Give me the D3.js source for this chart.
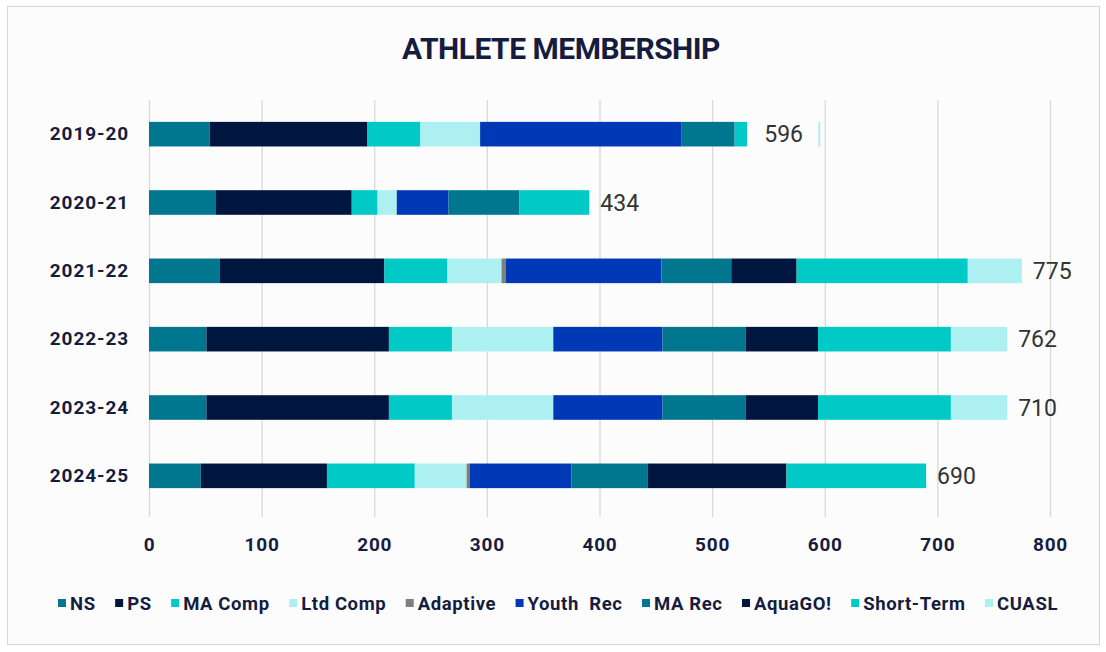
<!DOCTYPE html>
<html>
<head>
<meta charset="utf-8">
<script src="https://cdn.jsdelivr.net/npm/d3@7"></script>
<style>
    body { margin: 0; background: #ffffff; }
    text { font-family: Roboto, "Liberation Sans", sans-serif; }
</style>
</head>
<body>
<div id="chart-area"></div>
<script>
// seasons (top to bottom)
var seasons = ["2019-20", "2020-21", "2021-22", "2022-23", "2023-24", "2024-25"];

// series values per season
var ns        = [54, 59, 63, 51, 51, 46];
var ps        = [140, 121, 146, 162, 162, 112];
var maComp    = [47, 23, 56, 56, 56, 78];
var ltdComp   = [53, 17, 48, 90, 90, 46];
var adaptive  = [0, 0, 4, 0, 0, 3];
var youthRec  = [179, 46, 138, 97, 97, 90];
var maRec     = [47, 63, 62, 74, 74, 68];
var aquaGo    = [0, 0, 58, 64, 64, 123];
var shortTerm = [11, 62, 152, 118, 118, 124];
var cuasl     = [65, 0, 48, 50, 50, 0];

// totals shown as labels
var totals = [596, 434, 775, 762, 710, 690];
// rows where the label box sits over the last segment
var labelOnTop = [true, false, false, false, false, false];

var seriesNames = ["NS", "PS", "MA Comp", "Ltd Comp", "Adaptive", "Youth  Rec", "MA Rec", "AquaGO!", "Short-Term", "CUASL"];
var seriesValues = [ns, ps, maComp, ltdComp, adaptive, youthRec, maRec, aquaGo, shortTerm, cuasl];
var colors = ["#00778f", "#00163f", "#00c9c6", "#acf0f2", "#7f7f7f", "#0039b5", "#00778f", "#00163f", "#00c9c6", "#acf0f2"];

var xTicks = [0, 100, 200, 300, 400, 500, 600, 700, 800];

var W = 1106, H = 652;
var margin = {left: 149, right: 56, top: 100, bottom: 135};

var svg = d3.select("#chart-area").append("svg")
    .attr("width", W)
    .attr("height", H);

// chart frame
svg.append("rect")
    .attr("x", 7.5)
    .attr("y", 6.5)
    .attr("width", 1092)
    .attr("height", 638)
    .attr("fill", "#fcfcfd")
    .attr("stroke", "#d6d6d6");

svg.append("text")
    .attr("x", 561)
    .attr("y", 59)
    .attr("text-anchor", "middle")
    .attr("font-weight", "bold")
    .attr("font-size", 30)
    .attr("letter-spacing", -0.5)
    .attr("fill", "#161c3d")
    .text("ATHLETE MEMBERSHIP");

// build the table for the stack
var table = seasons.map(function(s, i) {
    var row = {season: s};
    seriesNames.forEach(function(k, j) { row[k] = seriesValues[j][i]; });
    return row;
});

var stacked = d3.stack().keys(seriesNames)(table);

var x = d3.scaleLinear().domain([0, 800]).range([margin.left, 1050]);
var y = d3.scaleBand().domain(seasons).range([margin.top, 510]).paddingInner(0.64).paddingOuter(0.32);

// gridlines
svg.append("g")
    .selectAll("line")
    .data(xTicks)
    .enter().append("line")
    .attr("x1", function(d) { return x(d) + 0.5; })
    .attr("x2", function(d) { return x(d) + 0.5; })
    .attr("y1", margin.top)
    .attr("y2", H - margin.bottom)
    .attr("stroke", "#d9d9d9")
    .attr("stroke-width", 1.3);

// bars
svg.append("g")
    .selectAll("g")
    .data(stacked)
    .enter().append("g")
    .attr("fill", function(d, i) { return colors[i]; })
    .selectAll("rect")
    .data(function(d) { return d; })
    .enter().append("rect")
    .attr("x", function(d) { return x(d[0]); })
    .attr("y", function(d) { return y(d.data.season); })
    .attr("width", function(d) { return x(d[1]) - x(d[0]); })
    .attr("height", y.bandwidth());

// total labels
var last = stacked[stacked.length - 1];
var labels = svg.append("g");
seasons.forEach(function(s, i) {
    var end = last[i][1];
    var start = last[i][0];
    var cy = y(s) + y.bandwidth() / 2;
    if (labelOnTop[i]) {
        labels.append("rect")
            .attr("x", x(start))
            .attr("y", y(s) - 2)
            .attr("width", x(end) - x(start) - 2)
            .attr("height", y.bandwidth() + 4)
            .attr("fill", "#fcfcfd");
        labels.append("text")
            .attr("x", (x(start) + x(end)) / 2)
            .attr("y", cy)
            .attr("dy", ".36em")
            .attr("text-anchor", "middle")
            .attr("font-size", 23)
            .attr("fill", "#333333")
            .text(totals[i]);
    } else {
        labels.append("text")
            .attr("x", x(end) + 11)
            .attr("y", cy)
            .attr("dy", ".36em")
            .attr("font-size", 23)
            .attr("fill", "#333333")
            .text(totals[i]);
    }
});

// axes
var xAxis = svg.append("g")
    .attr("transform", "translate(0," + (H - margin.bottom) + ")")
    .call(d3.axisBottom(x).tickValues(xTicks).tickSize(0).tickPadding(21));
xAxis.select(".domain").remove();
xAxis.selectAll("text")
    .attr("font-family", "Roboto, sans-serif")
    .attr("font-size", 19)
    .attr("font-weight", "bold")
    .attr("letter-spacing", 0.8)
    .attr("fill", "#161c3d");

var yAxis = svg.append("g")
    .attr("transform", "translate(" + (margin.left - 20) + ",0)")
    .call(d3.axisLeft(y).tickSize(0).tickPadding(0));
yAxis.select(".domain").remove();
yAxis.selectAll("text")
    .attr("font-family", "Roboto, sans-serif")
    .attr("font-size", 19)
    .attr("font-weight", "bold")
    .attr("letter-spacing", 0.9)
    .attr("fill", "#161c3d");

// legend, spread over the same width as the original
var legend = svg.append("g").attr("transform", "translate(0,603)");
var items = seriesNames.map(function(name, i) {
    var g = legend.append("g");
    g.append("rect")
        .attr("x", 0)
        .attr("y", -4)
        .attr("width", 8)
        .attr("height", 8)
        .attr("fill", colors[i]);
    var t = g.append("text")
        .attr("x", 12)
        .attr("y", 0)
        .attr("dy", ".36em")
        .attr("font-size", 18.5)
        .attr("font-weight", "bold")
        .attr("letter-spacing", 0.6)
        .attr("fill", "#161c3d")
        .style("white-space", "pre")
        .text(name);
    return {g: g, w: 12 + t.node().getComputedTextLength()};
});
var legendLeft = 58, legendRight = 1058;
var gap = (legendRight - legendLeft - d3.sum(items, function(d) { return d.w; })) / (items.length - 1);
var lx = legendLeft;
items.forEach(function(d) {
    d.g.attr("transform", "translate(" + lx + ",0)");
    lx += d.w + gap;
});
</script>
</body>
</html>
